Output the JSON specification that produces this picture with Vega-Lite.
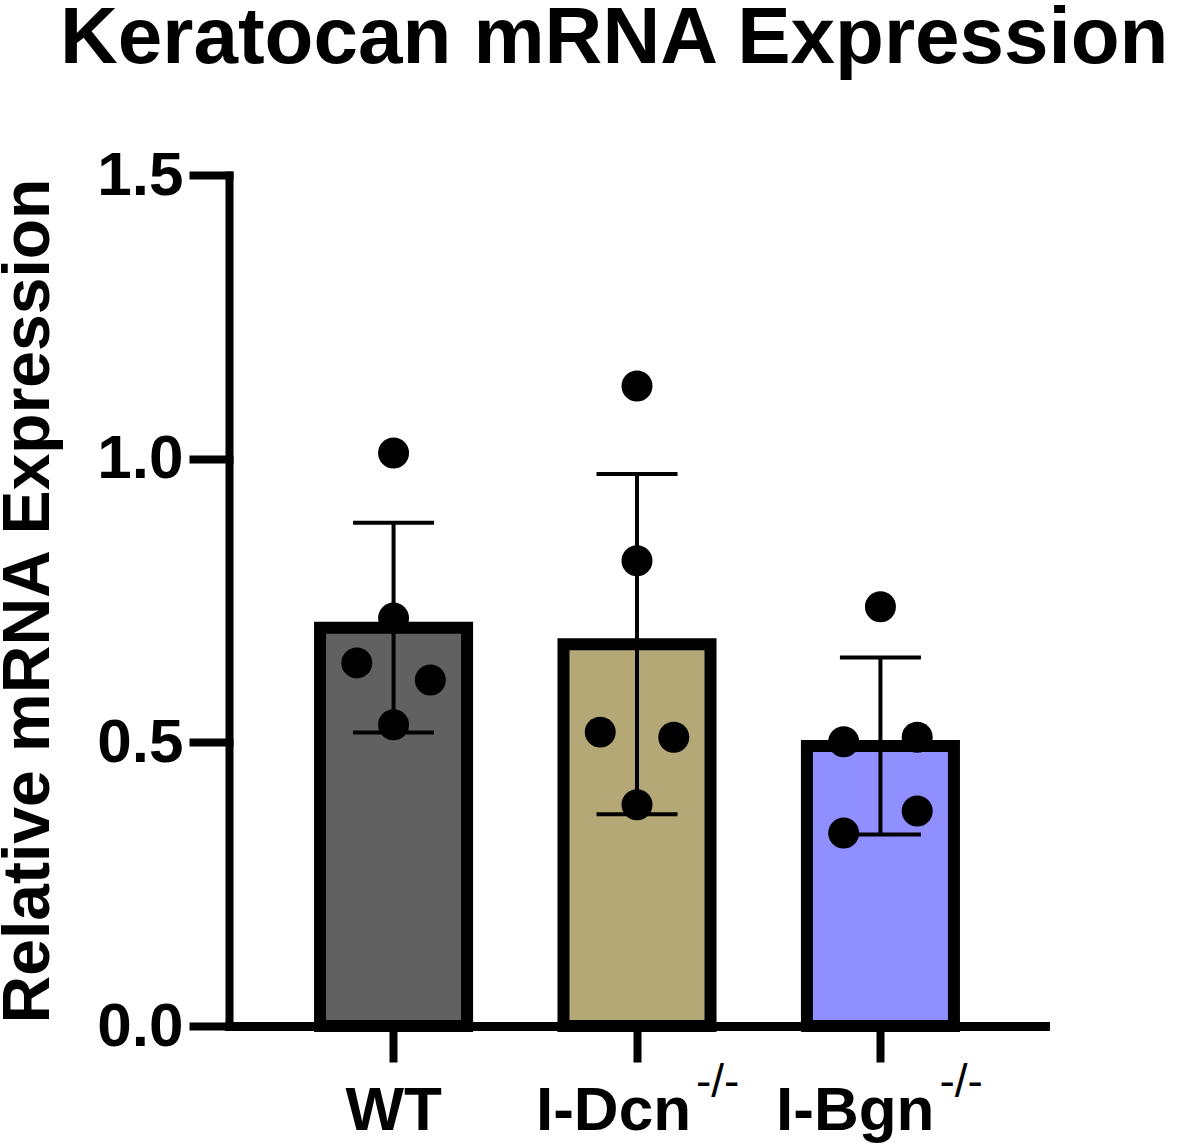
{
  "$schema": "https://vega.github.io/schema/vega-lite/v6.json",
  "width": 816,
  "height": 851,
  "autosize": {"type": "none"},
  "padding": {"left": 229, "top": 175, "right": 155, "bottom": 119},
  "background": "white",
  "title": {
    "text": "Keratocan mRNA Expression",
    "anchor": "start",
    "frame": "group",
    "dx": -169,
    "offset": 1,
    "baseline": "alphabetic",
    "font": "Liberation Sans",
    "fontSize": 80,
    "fontWeight": "bold",
    "color": "black"
  },
  "datasets": {
    "points": [
      {"group": "WT", "value": 1.010, "pos": "C"},
      {"group": "WT", "value": 0.719, "pos": "C"},
      {"group": "WT", "value": 0.640, "pos": "L"},
      {"group": "WT", "value": 0.610, "pos": "R"},
      {"group": "WT", "value": 0.531, "pos": "C"},
      {"group": "I-Dcn", "value": 1.128, "pos": "C"},
      {"group": "I-Dcn", "value": 0.820, "pos": "C"},
      {"group": "I-Dcn", "value": 0.518, "pos": "L"},
      {"group": "I-Dcn", "value": 0.509, "pos": "R"},
      {"group": "I-Dcn", "value": 0.390, "pos": "C"},
      {"group": "I-Bgn", "value": 0.739, "pos": "C"},
      {"group": "I-Bgn", "value": 0.501, "pos": "L"},
      {"group": "I-Bgn", "value": 0.509, "pos": "R"},
      {"group": "I-Bgn", "value": 0.379, "pos": "R"},
      {"group": "I-Bgn", "value": 0.340, "pos": "L"}
    ],
    "labels": [
      {"group": "WT", "base": "WT", "sup": ""},
      {"group": "I-Dcn", "base": "I-Dcn", "sup": "-/-"},
      {"group": "I-Bgn", "base": "I-Bgn", "sup": "-/-"}
    ]
  },
  "resolve": {"scale": {"xOffset": "independent"}},
  "layer": [
    {
      "data": {"name": "points"},
      "mark": {"type": "bar", "stroke": "black", "strokeWidth": 12},
      "encoding": {
        "x": {
          "field": "group",
          "type": "nominal",
          "sort": ["WT", "I-Dcn", "I-Bgn"],
          "scale": {"domain": ["WT", "I-Dcn", "I-Bgn"], "paddingInner": 0.396, "paddingOuter": 0.374},
          "axis": {
            "labels": false,
            "title": null,
            "domainColor": "black",
            "domainWidth": 9,
            "domainCap": "square",
            "tickColor": "black",
            "tickWidth": 8,
            "tickSize": 36,
            "ticks": true
          }
        },
        "y": {
          "aggregate": "mean",
          "field": "value",
          "type": "quantitative",
          "title": "Relative mRNA Expression",
          "scale": {"domain": [0, 1.5], "nice": false, "zero": true},
          "axis": {
            "values": [0, 0.5, 1.0, 1.5],
            "format": ".1f",
            "grid": false,
            "domainColor": "black",
            "domainWidth": 8,
            "domainCap": "square",
            "tickColor": "black",
            "tickWidth": 8,
            "tickSize": 36,
            "tickCap": "square",
            "labelFont": "Liberation Sans",
            "labelFontSize": 62,
            "labelFontWeight": "bold",
            "labelColor": "black",
            "labelPadding": 10,
            "titleFont": "Liberation Sans",
            "titleFontSize": 66,
            "titleFontWeight": "bold",
            "titleColor": "black",
            "titlePadding": 34
          }
        },
        "fill": {
          "field": "group",
          "type": "nominal",
          "scale": {"domain": ["WT", "I-Dcn", "I-Bgn"], "range": ["#616161", "#B3A876", "#8F8FFF"]},
          "legend": null
        }
      }
    },
    {
      "data": {"name": "points"},
      "mark": {"type": "errorbar", "extent": "stdev", "color": "black", "thickness": 4, "ticks": {"size": 81, "color": "black", "opacity": 1}, "rule": {"color": "black", "opacity": 1}},
      "encoding": {
        "x": {"field": "group", "type": "nominal"},
        "y": {"field": "value", "type": "quantitative", "title": "Relative mRNA Expression"}
      }
    },
    {
      "data": {"name": "points"},
      "mark": {"type": "circle", "color": "black", "opacity": 1, "size": 960},
      "encoding": {
        "x": {"field": "group", "type": "nominal"},
        "xOffset": {"field": "pos", "type": "nominal", "scale": {"domain": ["L", "C", "R"], "paddingInner": 0, "paddingOuter": 1.3}},
        "y": {"field": "value", "type": "quantitative", "title": "Relative mRNA Expression"}
      }
    },
    {
      "data": {"name": "labels"},
      "transform": [{"filter": "datum.sup == ''"}],
      "mark": {"type": "text", "font": "Liberation Sans", "fontSize": 62, "fontWeight": "bold", "align": "center", "baseline": "alphabetic", "color": "black"},
      "encoding": {
        "x": {"field": "group", "type": "nominal"},
        "y": {"datum": -0.183},
        "text": {"field": "base"}
      }
    },
    {
      "data": {"name": "labels"},
      "transform": [{"filter": "datum.sup != ''"}],
      "mark": {"type": "text", "font": "Liberation Sans", "fontSize": 62, "fontWeight": "bold", "align": "right", "dx": 54, "baseline": "alphabetic", "color": "black"},
      "encoding": {
        "x": {"field": "group", "type": "nominal"},
        "y": {"datum": -0.183},
        "text": {"field": "base"}
      }
    },
    {
      "data": {"name": "labels"},
      "transform": [{"filter": "datum.sup != ''"}],
      "mark": {"type": "text", "font": "Liberation Sans", "fontSize": 46, "fontWeight": "normal", "align": "left", "dx": 59, "baseline": "alphabetic", "color": "black"},
      "encoding": {
        "x": {"field": "group", "type": "nominal"},
        "y": {"datum": -0.125},
        "text": {"field": "sup"}
      }
    }
  ],
  "config": {
    "view": {"stroke": null},
    "axis": {"domainColor": "black", "tickColor": "black"}
  }
}
